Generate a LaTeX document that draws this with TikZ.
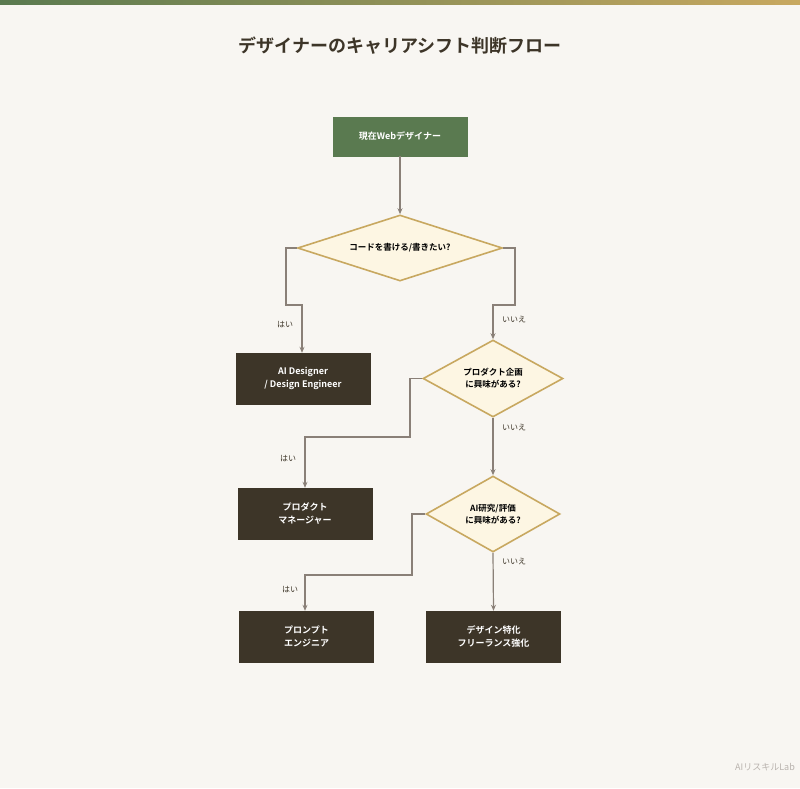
\documentclass[tikz,border=0pt]{standalone}
\usepackage{fontspec}
\setmainfont{Noto Sans CJK JP}[BoldFont={* Bold}]
\usetikzlibrary{shapes.geometric,arrows.meta}
\definecolor{bg}{HTML}{F8F6F2}
\definecolor{grn}{HTML}{5A7A50}
\definecolor{gld}{HTML}{C8A860}
\definecolor{drk}{HTML}{3D3528}
\definecolor{lne}{HTML}{8A8078}
\definecolor{dfill}{HTML}{FDF6E3}
\begin{document}
\begin{tikzpicture}[x=1pt,y=-1pt,
 box/.style={draw=drk,fill=drk,text=white,font=\bfseries\fontsize{9}{13}\selectfont,minimum width=134pt,minimum height=51pt,align=center,inner sep=0},
 dia/.style={diamond,draw=gld,line width=1.6pt,fill=dfill,font=\bfseries\fontsize{8.5}{12}\selectfont,align=center,inner sep=0,aspect=1.8},
 edge/.style={draw=lne,line width=1.2pt,-{Stealth[length=6pt,width=5pt]}},
 lbl/.style={font=\fontsize{8}{10}\selectfont,text=drk}]
\useasboundingbox (0,0) rectangle (800,788);
\fill[bg] (0,0) rectangle (800,788);
\shade[left color=grn,right color=gld] (0,0) rectangle (800,4);
\node[font=\bfseries\fontsize{18}{22}\selectfont,text=drk] (title) at (400,46) {デザイナーのキャリアシフト判断フロー};
\node[box,draw=grn,fill=grn,minimum height=39pt] (s) at (400,136.5) {現在Webデザイナー};
\node[dia,minimum width=205pt,minimum height=66pt] (d1) at (400,248) {コードを書ける/書きたい?};
\node[box] (a) at (303,378.5) {AI Designer\\/ Design Engineer};
\node[dia,minimum width=140pt,minimum height=77pt] (d2) at (493,378.5) {プロダクト企画\\に興味がある?};
\node[box] (b) at (305,513.5) {プロダクト\\マネージャー};
\node[dia,minimum width=134pt,minimum height=76pt] (d3) at (493,514) {AI研究/評価\\に興味がある?};
\node[box] (c) at (306.5,636.5) {プロンプト\\エンジニア};
\node[box] (e) at (493.5,636.5) {デザイン特化\\フリーランス強化};
\draw[edge] (s) -- (d1);
\draw[edge] (d1.west) -- (286,248) -- (286,305) -- (302,305) -- (a.north -| 302,0);
\draw[edge] (d1.east) -- (515,248) -- (515,305) -- (493,305) -- (d2.north);
\draw[edge] (d2.west) -- (410,378.5) -- (410,437) -- (305,437) -- (b.north);
\draw[edge] (d2.south) -- (d3.north);
\draw[edge] (d3.west) -- (412,514) -- (412,575) -- (305,575) -- (c.north -| 305,0);
\draw[edge] (d3.south) -- (e.north);
\node[lbl] (l1) at (285,325) {はい};
\node[lbl] (l2) at (514,320) {いいえ};
\node[lbl] (l3) at (288,459) {はい};
\node[lbl] (l4) at (514,428) {いいえ};
\node[lbl] (l5) at (290,590) {はい};
\node[lbl] (l6) at (514,562) {いいえ};
\node[font=\fontsize{9}{11}\selectfont,text=lne!60] (ft) at (765,767) {AIリスキルLab};
\end{tikzpicture}
\end{document}
